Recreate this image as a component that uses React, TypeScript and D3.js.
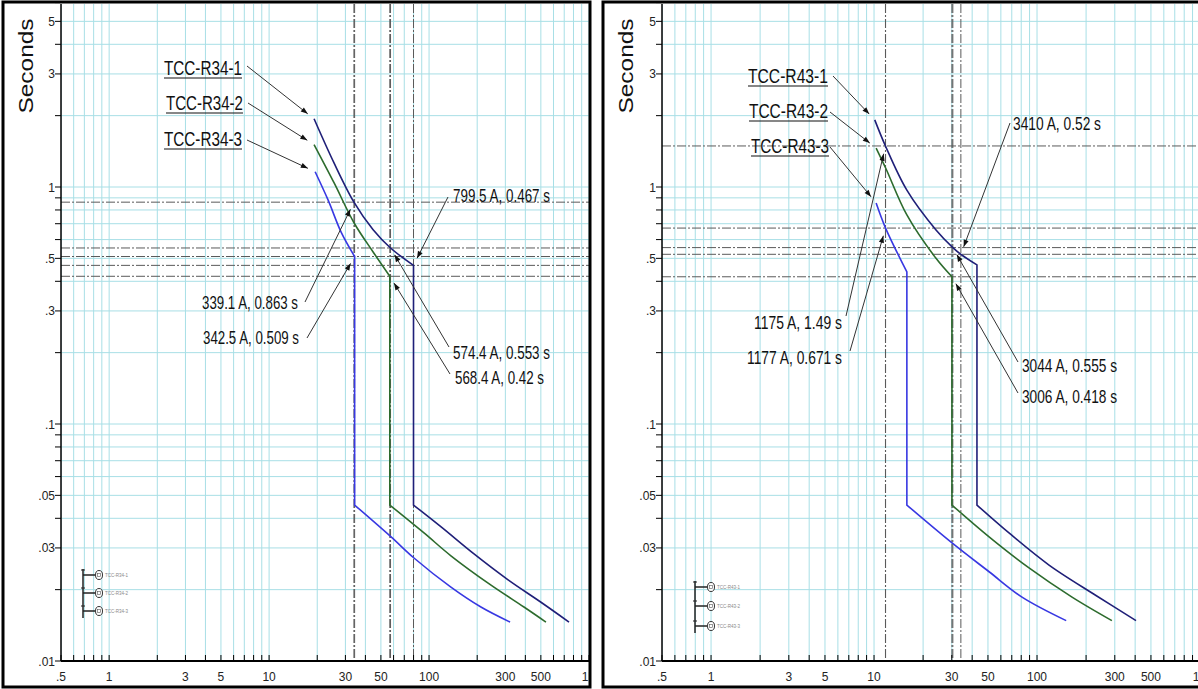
import * as d3 from "d3";
import React from "react";

// left sheet: current in A/10, right sheet: current in A/100, time in seconds
const r34Curve1 = [[19.1, 1.94], [25.5, 1.26], [33.91, 0.863], [44.7, 0.66], [57.44, 0.553], [79.95, 0.467], [79.95, 0.0455], [119, 0.0368], [191, 0.0283], [312, 0.022], [501, 0.0177], [750, 0.0146]];
const r34Curve2 = [[19.1, 1.51], [25.5, 1.04], [34, 0.705], [44.7, 0.532], [56.84, 0.42], [56.84, 0.0455], [93, 0.0347], [137, 0.0278], [244, 0.0209], [392, 0.0169], [538, 0.0146]];
const r34Curve3 = [[19.4, 1.16], [23.4, 0.88], [28.2, 0.645], [34.25, 0.509], [34.25, 0.0455], [57.9, 0.0334], [80.5, 0.0272], [137, 0.0205], [211, 0.0169], [321, 0.0146]];
const r34Names = ["TCC-R34-1", "TCC-R34-2", "TCC-R34-3"];
const r34Marks = [[33.91, 0.863], [34.25, 0.509], [79.95, 0.467], [57.44, 0.553], [56.84, 0.42]];
const r34MarkLabels = ["339.1 A, 0.863 s", "342.5 A, 0.509 s", "799.5 A, 0.467 s", "574.4 A, 0.553 s", "568.4 A, 0.42 s"];

const r43Curve1 = [[10.1, 1.92], [11.75, 1.49], [15.9, 0.97], [24, 0.659], [30.44, 0.555], [34.1, 0.52], [42.8, 0.469], [42.8, 0.0455], [67.3, 0.0347], [118.5, 0.0254], [230, 0.0189], [405, 0.0148]];
const r43Curve2 = [[10.3, 1.46], [11.8, 1.2], [15.9, 0.762], [24, 0.5], [30.06, 0.418], [30.06, 0.0455], [50.8, 0.0334], [89.3, 0.0247], [164, 0.0186], [288, 0.0148]];
const r43Curve3 = [[10.3, 0.856], [11.77, 0.671], [15.9, 0.438], [15.9, 0.0455], [30.1, 0.0315], [50.8, 0.0238], [80.9, 0.0186], [151, 0.0148]];
const r43Names = ["TCC-R43-1", "TCC-R43-2", "TCC-R43-3"];
const r43Marks = [[34.1, 0.52], [30.44, 0.555], [30.06, 0.418], [11.75, 1.49], [11.77, 0.671]];
const r43MarkLabels = ["3410 A, 0.52 s", "3044 A, 0.555 s", "3006 A, 0.418 s", "1175 A, 1.49 s", "1177 A, 0.671 s"];

const xTickValues = [0.5, 1, 3, 5, 10, 30, 50, 100, 300, 500, 1000];
const xTickLabels = [".5", "1", "3", "5", "10", "30", "50", "100", "300", "500", "1K"];
const yTickValues = [5, 3, 1, 0.5, 0.3, 0.1, 0.05, 0.03, 0.01];
const yTickLabels = ["5", "3", "1", ".5", ".3", ".1", ".05", ".03", ".01"];

const curveColors = ["#1f1f78", "#2d6b2d", "#3838e2"];
const gridColor = "#a8dfe6";
const refColor = "#5a5a5a";
const font = "'Liberation Sans', Arial, sans-serif";

function gridValues(lo: number, hi: number) {
  const out: number[] = [];
  for (let e = -3; e <= 3; e++) {
    for (let m = 1; m <= 9; m++) {
      const v = +(m * Math.pow(10, e)).toPrecision(3);
      if (v >= lo * 0.999 && v <= hi * 1.001) out.push(v);
    }
  }
  return out;
}

function splitCurve(pts: number[][]) {
  const i = pts.findIndex((p, k) => k > 0 && p[0] === pts[k - 1][0]);
  return [pts.slice(0, i), pts.slice(i)];
}

function arrowHead(tip: number[], from: number[]) {
  const dx = tip[0] - from[0], dy = tip[1] - from[1];
  const len = Math.hypot(dx, dy);
  const ux = dx / len, uy = dy / len;
  const bx = tip[0] - ux * 7, by = tip[1] - uy * 7;
  return `${tip[0]},${tip[1]} ${bx - uy * 2.6},${by + ux * 2.6} ${bx + uy * 2.6},${by - ux * 2.6}`;
}

function Panel(props: any) {
  const { id, frame, xRange, curves, names, nameLayout, marks, markLabels, markLayout, legend } = props;
  const plotTop = frame.y + 2;
  const plotBottom = 661;
  const axisX = xRange[0];
  const x = d3.scaleLog().domain([0.5, 1000]).range(xRange);
  const y = d3.scaleLog().domain([0.01, 10]).range([plotBottom, plotBottom - 3 * 237]);
  const line = d3.line<number[]>().x((d) => x(d[0])).y((d) => y(d[1])).curve(d3.curveCatmullRom.alpha(0.5));
  const xGrid = gridValues(0.5, 1000);
  const yGrid = gridValues(0.01, 9);
  const frameRight = frame.x + frame.w;

  const towards = (p: number[], to: number[], dist: number) => {
    const dx = to[0] - p[0], dy = to[1] - p[1];
    const l = Math.hypot(dx, dy);
    return [p[0] + (dx / l) * dist, p[1] + (dy / l) * dist];
  };

  return (
    <g>
      <defs>
        <clipPath id={`${id}-frame`}>
          <rect x={frame.x} y={frame.y} width={frame.w} height={frame.h} />
        </clipPath>
        <clipPath id={`${id}-plot`}>
          <rect x={axisX} y={plotTop} width={frameRight - axisX} height={plotBottom - plotTop} />
        </clipPath>
      </defs>
      <g clipPath={`url(#${id}-frame)`}>
        <rect x={frame.x} y={frame.y} width={frame.w} height={frame.h} fill="#fff" />
        <g clipPath={`url(#${id}-plot)`}>
          {xGrid.map((v) => (
            <line key={`gx${v}`} x1={x(v)} x2={x(v)} y1={plotTop} y2={plotBottom} stroke={gridColor} strokeWidth={1} />
          ))}
          {yGrid.map((v) => (
            <line key={`gy${v}`} x1={axisX} x2={frameRight} y1={y(v)} y2={y(v)} stroke={gridColor} strokeWidth={1} />
          ))}
          {marks.map((m: number[], i: number) => (
            <g key={`ref${i}`} stroke={refColor} strokeWidth={1} strokeDasharray="9,2,2,2">
              <line x1={x(m[0])} x2={x(m[0])} y1={plotTop} y2={plotBottom} />
              <line x1={axisX} x2={frameRight} y1={y(m[1])} y2={y(m[1])} />
            </g>
          ))}
          {curves.map((c: number[][], i: number) => {
            const [upper, lower] = splitCurve(c);
            const d = (line(upper) || "") + (line(lower) || "").replace(/^M/, "L");
            return <path key={`c${i}`} d={d} fill="none" stroke={curveColors[i]} strokeWidth={1.6} />;
          })}
        </g>

        {/* axes */}
        <line x1={axisX} x2={axisX} y1={plotTop} y2={plotBottom} stroke="#000" strokeWidth={1.5} />
        <line x1={axisX} x2={frameRight} y1={plotBottom} y2={plotBottom} stroke="#000" strokeWidth={2} />
        {yGrid.map((v) => (
          <line key={`ty${v}`} x1={axisX - 6} x2={axisX} y1={y(v)} y2={y(v)} stroke="#000" strokeWidth={1} />
        ))}
        {xGrid.map((v) => (
          <line key={`tx${v}`} x1={x(v)} x2={x(v)} y1={plotBottom - 6} y2={plotBottom} stroke="#000" strokeWidth={1} />
        ))}
        {yTickValues.map((v, i) => (
          <text key={`ly${v}`} x={axisX - 6} y={y(v) + 4.5} textAnchor="end" fontFamily={font} fontSize={12} fill="#222">
            {yTickLabels[i]}
          </text>
        ))}
        {xTickValues.map((v, i) => (
          <text key={`lx${v}`} x={x(v)} y={681} textAnchor="middle" fontFamily={font} fontSize={12} fill="#222">
            {xTickLabels[i]}
          </text>
        ))}
        <text transform={`translate(${frame.x + 30},${66}) rotate(-90)`} textAnchor="middle" fontFamily={font} fontSize={21}
          textLength={95} lengthAdjust="spacingAndGlyphs" fill="#111">Seconds</text>

        {/* curve name callouts */}
        {names.map((n: string, i: number) => {
          const L = nameLayout[i];
          const start = [x(curves[i][0][0]), y(curves[i][0][1])];
          const tip = towards(start, L.lead, 8);
          return (
            <g key={`n${i}`}>
              <text x={L.x} y={L.y} fontFamily={font} fontSize={20} textLength={L.w} lengthAdjust="spacingAndGlyphs" fill="#111">{n}</text>
              <line x1={L.x} x2={L.x + L.w} y1={L.y + 3} y2={L.y + 3} stroke="#111" strokeWidth={1.2} />
              <line x1={L.lead[0]} y1={L.lead[1]} x2={tip[0]} y2={tip[1]} stroke="#333" strokeWidth={1} />
              <polygon points={arrowHead(tip, L.lead)} fill="#111" />
            </g>
          );
        })}

        {/* point callouts */}
        {markLabels.map((t: string, i: number) => {
          const L = markLayout[i];
          const p = [x(marks[i][0]), y(marks[i][1])];
          const tip = towards(p, L.lead, 8);
          return (
            <g key={`m${i}`}>
              <text x={L.x} y={L.y} fontFamily={font} fontSize={19} textLength={L.w} lengthAdjust="spacingAndGlyphs" fill="#111">{t}</text>
              <line x1={L.lead[0]} y1={L.lead[1]} x2={tip[0]} y2={tip[1]} stroke="#333" strokeWidth={1} />
              <polygon points={arrowHead(tip, L.lead)} fill="#111" />
            </g>
          );
        })}

        {/* small device symbols */}
        <line x1={legend.x} x2={legend.x} y1={legend.rows[0] - 6} y2={legend.rows[2] + 7} stroke="#222" strokeWidth={1.5} />
        {names.map((n: string, i: number) => (
          <g key={`lg${i}`}>
            <line x1={legend.x - 2} x2={legend.x + 2} y1={legend.rows[i] - 5} y2={legend.rows[i] - 5} stroke="#222" strokeWidth={1} />
            <line x1={legend.x} x2={legend.x + 12} y1={legend.rows[i]} y2={legend.rows[i]} stroke="#222" strokeWidth={1.5} />
            <ellipse cx={legend.x + 16} cy={legend.rows[i]} rx={3.5} ry={4.5} fill="#fff" stroke="#333" strokeWidth={1} />
            <rect x={legend.x + 14.5} y={legend.rows[i] - 1.5} width={3} height={3} fill="none" stroke="#555" strokeWidth={0.6} />
            <text x={legend.x + 22} y={legend.rows[i] + 1.5} fontFamily={font} fontSize={4.5} fill="#888">{n}</text>
          </g>
        ))}
      </g>
      <rect x={frame.x} y={frame.y} width={frame.w} height={frame.h} fill="none" stroke="#000" strokeWidth={3} />
    </g>
  );
}

export default function App() {
  const leftNameLayout = [
    { x: 164, y: 75, w: 78, lead: [247, 66] },
    { x: 166, y: 110, w: 77, lead: [248, 103] },
    { x: 164, y: 146, w: 78, lead: [247, 140] },
  ];
  const leftMarkLayout = [
    { x: 202, y: 309, w: 96, lead: [305, 302] },
    { x: 203, y: 344, w: 96, lead: [307, 338] },
    { x: 453, y: 202, w: 97, lead: [448, 197] },
    { x: 453, y: 359, w: 97, lead: [449, 347] },
    { x: 455, y: 384, w: 89, lead: [450, 374] },
  ];
  const rightNameLayout = [
    { x: 748, y: 83, w: 80, lead: [833, 76] },
    { x: 749, y: 118, w: 79, lead: [830, 112] },
    { x: 751, y: 153, w: 78, lead: [830, 147] },
  ];
  const rightMarkLayout = [
    { x: 1013, y: 130, w: 88, lead: [1010, 123] },
    { x: 1022, y: 372, w: 95, lead: [1018, 362] },
    { x: 1022, y: 403, w: 95, lead: [1018, 393] },
    { x: 754, y: 329, w: 88, lead: [846, 316] },
    { x: 747, y: 364, w: 95, lead: [850, 351] },
  ];
  return (
    <svg width={1198} height={689} style={{ position: "absolute", left: 0, top: 0, background: "#fff" }}>
      <rect x={0} y={0} width={1198} height={689} fill="#fff" />
      <Panel id="left" frame={{ x: 3, y: 2, w: 587, h: 685 }} xRange={[61, 589]}
        curves={[r34Curve1, r34Curve2, r34Curve3]} names={r34Names} nameLayout={leftNameLayout}
        marks={r34Marks} markLabels={r34MarkLabels} markLayout={leftMarkLayout}
        legend={{ x: 83, rows: [575, 593, 611] }} />
      <Panel id="right" frame={{ x: 603, y: 2, w: 610, h: 685 }} xRange={[662, 1200]}
        curves={[r43Curve1, r43Curve2, r43Curve3]} names={r43Names} nameLayout={rightNameLayout}
        marks={r43Marks} markLabels={r43MarkLabels} markLayout={rightMarkLayout}
        legend={{ x: 695, rows: [587, 606, 626] }} />
    </svg>
  );
}
